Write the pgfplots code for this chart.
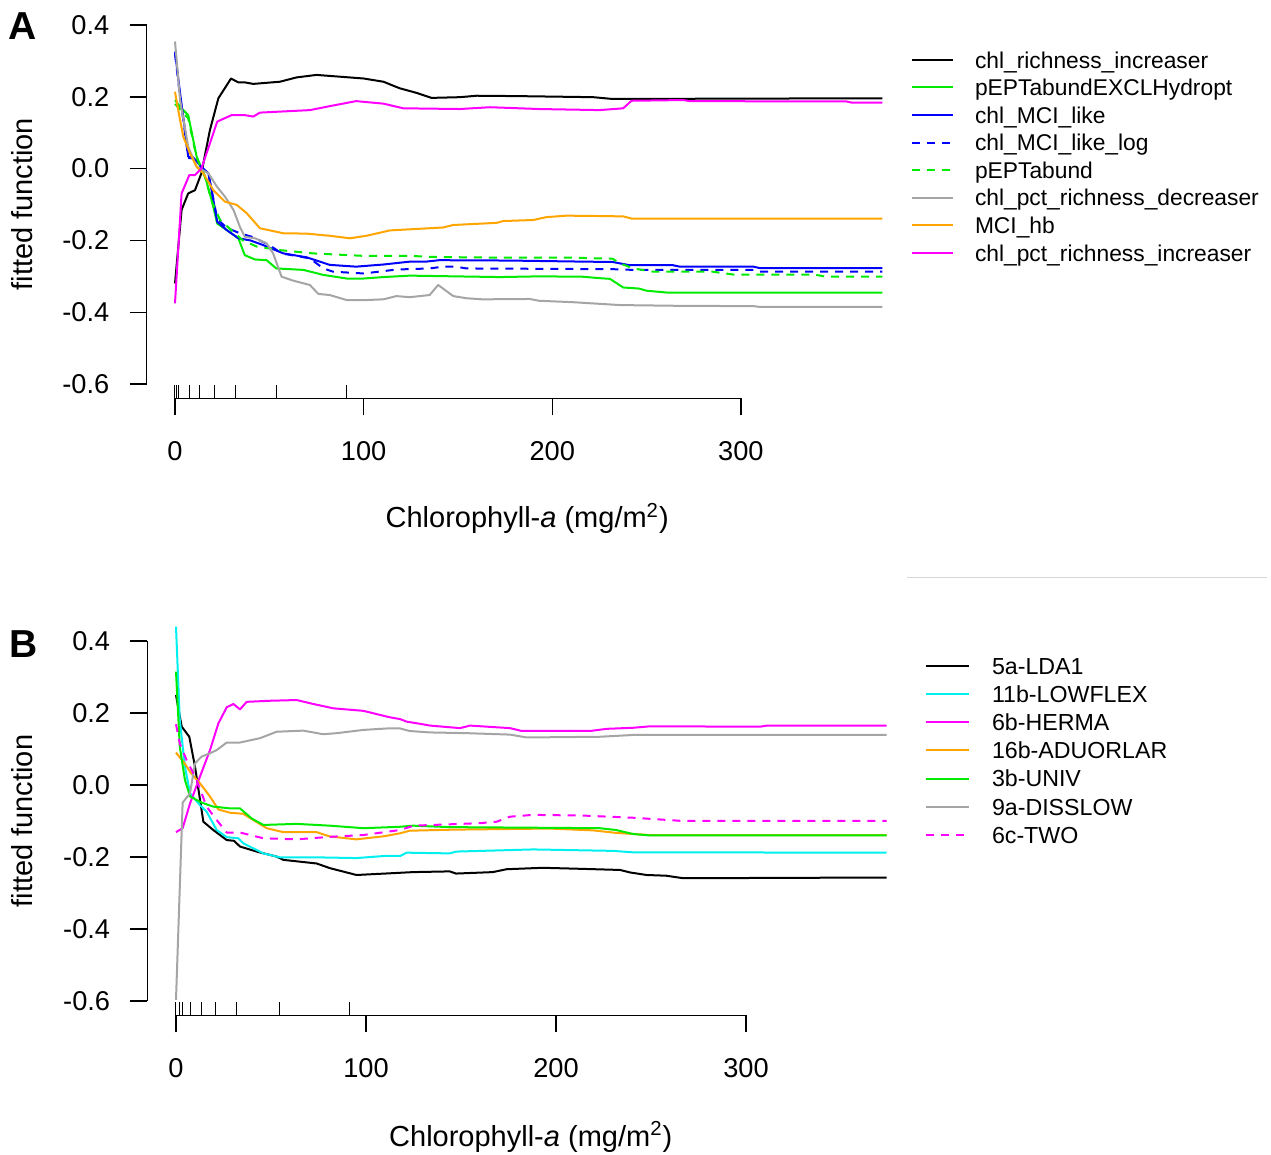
\documentclass[border=0pt]{standalone}
\usepackage{fontspec}
\setmainfont{Liberation Sans}
\usepackage{pgfplots}
\pgfplotsset{compat=1.18}
\definecolor{rgreen}{RGB}{0,235,0}
\definecolor{rblue}{RGB}{0,0,255}
\definecolor{rgray}{RGB}{165,165,165}
\definecolor{rorange}{RGB}{255,165,0}
\definecolor{rmag}{RGB}{255,0,255}
\definecolor{rcyan}{RGB}{0,240,240}
\pgfplotsset{
  rstyle/.style={
    xmin=-15, xmax=390, ymin=-0.64, ymax=0.44,
    scale only axis, clip=false,
    axis x line*=bottom, axis y line*=left,
    axis line style={draw=none},
    tick align=outside, major tick length=8.5pt,
    tick style={black, line width=0.7pt},
    xtick={0,100,200,300}, xticklabels={0,100,200,300},
    ytick={-0.6,-0.4,-0.2,0,0.2,0.4}, yticklabels={-0.6,-0.4,-0.2,0.0,0.2,0.4},
    minor tick num=0,
    tick label style={font=\fontsize{13.6}{16}\selectfont},
    yticklabel style={inner sep=0pt, xshift=-10pt},
    xticklabel style={inner sep=0pt, yshift=-12.9pt},
    label style={font=\fontsize{14.5}{17}\selectfont},
    xlabel={Chlorophyll-\textit{a} (mg/m\textsuperscript{2})},
    ylabel={fitted function},
    legend cell align=left,
    every axis plot/.append style={line width=1pt, line join=round},
  },
  rdash/.style={dash pattern=on 4pt off 3.5pt},
}
\begin{document}
\begin{tikzpicture}
\useasboundingbox (0,0) rectangle (635.5pt,-577.5pt);
\node[font=\bfseries\fontsize{19.5}{22}\selectfont, inner sep=0pt] at (11.5pt,-13pt) {A};
\node[font=\bfseries\fontsize{19.5}{22}\selectfont, inner sep=0pt] at (11.75pt,-322pt) {B};
\draw[color={rgb,255:red,215;green,215;blue,215}, line width=0.5pt] (453.5pt,-289pt) -- (633.5pt,-289pt);

% ---------------- Panel A ----------------
\begin{axis}[rstyle,
  at={(73.35pt,-5.32pt)}, anchor=north west,
  width=382pt, height=193.9pt,
  xlabel style={at={(axis description cs:0.498,-0.334)}, anchor=base},
  ylabel style={at={(axis description cs:-0.150,0.501)}, anchor=base},
  legend style={at={(axis description cs:1.0004,0.8943)}, anchor=north west,
    draw=none, fill=none, inner sep=0pt, outer sep=0pt,
    row sep=5.59pt, column sep=10.5pt,
    font=\fontsize{11.4}{14}\selectfont,
    nodes={inner sep=0pt, text height=8.2pt, text depth=0pt}},
  legend image code/.code={\draw[#1] (0pt,0pt) -- (20.5pt,0pt);},
]
\draw[black, line width=0.7pt] (axis cs:-15,-0.6) -- (axis cs:-15,0.4);
\draw[black, line width=0.7pt] (axis cs:0,-0.64) -- (axis cs:300,-0.64);

\addplot[black] table {
0 -0.32
3.5 -0.115
7 -0.069
10.6 -0.06
14 -0.013
18.5 0.107
23 0.196
29.7 0.251
33.6 0.24
37.2 0.24
41.5 0.236
55.6 0.242
64.4 0.254
75 0.261
87.5 0.256
100 0.251
110.5 0.242
119 0.224
128 0.211
136 0.197
151 0.199
160 0.203
181 0.202
221.6 0.199
232 0.194
375 0.196
};
\addlegendentry{chl\_richness\_increaser}
\addplot[rgreen] table {
0 0.191
2.7 0.172
7 0.149
11.5 0.033
16 -0.023
19.4 -0.087
22.4 -0.153
27.4 -0.171
33.6 -0.194
37 -0.241
42.4 -0.253
48.6 -0.255
53.7 -0.278
68 -0.282
78.6 -0.296
91 -0.306
100 -0.306
110.5 -0.302
124.5 -0.298
172 -0.302
193 -0.3
216 -0.301
225 -0.305
230.6 -0.307
237.6 -0.331
246 -0.334
250 -0.34
260.5 -0.345
375 -0.345
};
\addlegendentry{pEPTabundEXCLHydropt}
\addplot[rblue] table {
0 0.326
2.7 0.21
5.3 0.107
7 0.033
9.7 0.031
14 0.005
17.7 -0.013
19.4 -0.06
22.4 -0.148
27.4 -0.171
33.6 -0.194
40 -0.2
46.8 -0.213
57.4 -0.236
69.8 -0.247
82 -0.268
96 -0.273
110.5 -0.267
124.5 -0.259
133 -0.259
140 -0.255
177 -0.256
216.6 -0.259
232 -0.26
241 -0.269
264 -0.269
267.6 -0.273
306.6 -0.273
310 -0.277
375 -0.277
};
\addlegendentry{chl\_MCI\_like}
\addplot[rblue, rdash] table {
0 0.32
2.7 0.2
5.3 0.1
7 0.03
9.7 0.028
14 0.003
17.7 -0.015
19.4 -0.06
22.4 -0.14
27.4 -0.165
34.4 -0.18
41.5 -0.191
50 -0.213
56.5 -0.236
71.5 -0.25
78.6 -0.278
83.8 -0.287
100 -0.292
117.5 -0.281
135 -0.278
142 -0.273
149 -0.273
154.5 -0.278
232 -0.28
243 -0.282
306.6 -0.282
310 -0.287
375 -0.287
};
\addlegendentry{chl\_MCI\_like\_log}
\addplot[rgreen, rdash] table {
0 0.18
2.7 0.165
7 0.14
11.5 0.03
16 -0.025
19.4 -0.09
23.9 -0.143
29 -0.167
36 -0.2
43.3 -0.217
55.7 -0.227
73 -0.236
100 -0.243
124.5 -0.243
137 -0.246
172 -0.248
211 -0.248
232 -0.251
236 -0.264
243 -0.278
253.5 -0.287
285 -0.287
296 -0.295
339 -0.295
345 -0.301
375 -0.301
};
\addlegendentry{pEPTabund}
\addplot[rgray] table {
0 0.354
2.7 0.191
7 0.061
11.5 0.005
17.7 -0.013
22.2 -0.05
26.5 -0.078
31 -0.115
34.4 -0.162
37 -0.19
42.4 -0.194
48.6 -0.208
52 -0.236
56.5 -0.301
62.7 -0.312
71.5 -0.324
76 -0.349
82 -0.352
91 -0.366
101.5 -0.366
110.5 -0.364
117.4 -0.355
124.5 -0.358
135 -0.352
139.5 -0.324
147.5 -0.355
154.6 -0.361
163 -0.364
188 -0.363
193 -0.368
211 -0.372
236 -0.38
266 -0.382
306.6 -0.383
310 -0.385
375 -0.385
};
\addlegendentry{chl\_pct\_richness\_decreaser}
\addplot[rorange] table {
0 0.214
2.1 0.152
4.4 0.089
8 0.042
11.5 0.005
15 -0.013
20.3 -0.06
26.5 -0.092
32.7 -0.101
38 -0.124
45 -0.166
57.4 -0.18
69.8 -0.181
82 -0.187
92.7 -0.194
101.5 -0.187
114 -0.172
124.5 -0.169
142 -0.164
147.5 -0.157
170.5 -0.151
174 -0.146
190 -0.143
197 -0.135
207.6 -0.131
225 -0.132
237.6 -0.133
242 -0.139
375 -0.139
};
\addlegendentry{MCI\_hb}
\addplot[rmag] table {
0 -0.375
3.5 -0.069
7.6 -0.018
10.6 -0.018
14 0.0
18.5 0.07
22.4 0.131
30 0.149
37 0.149
41.5 0.145
45 0.156
71.6 0.163
82 0.174
96 0.188
110.5 0.181
121 0.168
151 0.166
167 0.171
193 0.166
225 0.163
237.6 0.168
242 0.189
269.5 0.191
273 0.188
356 0.187
358.6 0.184
375 0.184
};
\addlegendentry{chl\_pct\_richness\_increaser}
\addplot[forget plot, black, only marks, mark=|, mark size=3.25pt, mark options={line width=0.5pt, solid}] coordinates {
(0,-0.622) (1,-0.622) (2,-0.622) (7.5,-0.622) (13,-0.622) (21,-0.622) (32,-0.622) (54,-0.622) (91,-0.622)};
\end{axis}

% ---------------- Panel B ----------------
\begin{axis}[rstyle,
  at={(73.75pt,-313.3pt)}, anchor=north west,
  width=384.75pt, height=194.4pt,
  xlabel style={at={(axis description cs:0.498,-0.336)}, anchor=base},
  ylabel style={at={(axis description cs:-0.149,0.500)}, anchor=base},
  legend style={at={(axis description cs:1.0104,0.920)}, anchor=north west,
    draw=none, fill=none, inner sep=0pt, outer sep=0pt,
    row sep=5.78pt, column sep=11pt,
    font=\fontsize{11.6}{14}\selectfont,
    nodes={inner sep=0pt, text height=8.3pt, text depth=0pt}},
  legend image code/.code={\draw[#1] (0pt,0pt) -- (21.5pt,0pt);},
]
\draw[black, line width=0.7pt] (axis cs:-15,-0.6) -- (axis cs:-15,0.4);
\draw[black, line width=0.7pt] (axis cs:0,-0.64) -- (axis cs:300,-0.64);

\addplot[black] table {
0 0.25
3 0.162
7 0.134
10 0.051
14.4 -0.102
19.6 -0.125
26.7 -0.153
30.5 -0.155
33.7 -0.171
42.5 -0.185
53 -0.199
56.5 -0.208
74 -0.218
81 -0.231
95 -0.25
110 -0.246
124.7 -0.242
144 -0.24
147.4 -0.246
166.7 -0.242
174 -0.234
193 -0.23
214 -0.233
233.7 -0.236
239 -0.243
247.7 -0.25
258 -0.252
267 -0.259
374 -0.257
};
\addlegendentry{5a-LDA1}
\addplot[rcyan] table {
0 0.44
2 0.18
4.7 0.051
7.4 -0.023
12.6 -0.056
16.1 -0.074
21.4 -0.125
26.7 -0.145
32.8 -0.148
35.4 -0.162
46 -0.19
54.7 -0.201
74 -0.201
95 -0.203
110 -0.197
118 -0.197
121.4 -0.188
144 -0.19
147.4 -0.185
188 -0.179
230 -0.183
240.4 -0.187
374 -0.188
};
\addlegendentry{11b-LOWFLEX}
\addplot[rmag] table {
0 -0.131
3.5 -0.12
7.4 -0.051
12.6 0.023
17.9 0.097
22.3 0.171
26.7 0.216
30.2 0.225
33.7 0.21
37.2 0.231
49.5 0.234
63.5 0.236
72.3 0.225
82.8 0.213
98.6 0.206
112.6 0.188
118 0.183
121.4 0.176
128.4 0.17
133.7 0.165
149.5 0.158
154.7 0.165
175.8 0.158
182 0.15
218 0.15
226.7 0.156
240.7 0.159
249.5 0.163
307.4 0.162
311 0.165
374 0.165
};
\addlegendentry{6b-HERMA}
\addplot[rorange] table {
0 0.09
4.4 0.061
7.9 0.033
12.6 0.005
17.9 -0.032
22.3 -0.068
28.4 -0.077
35.4 -0.08
40.6 -0.097
47.7 -0.12
56.5 -0.131
74 -0.131
81 -0.143
95 -0.151
110 -0.142
118 -0.134
123 -0.127
146 -0.124
196.5 -0.121
219.3 -0.126
231.6 -0.133
249.3 -0.139
374 -0.139
};
\addlegendentry{16b-ADUORLAR}
\addplot[rgreen] table {
0 0.315
2 0.106
4.7 0.014
7.4 -0.032
13.5 -0.049
19.6 -0.06
28.4 -0.065
33.7 -0.065
39.8 -0.093
46 -0.111
63.5 -0.108
81 -0.113
98.6 -0.12
118 -0.116
124.7 -0.113
144 -0.117
223 -0.12
231.6 -0.125
240.4 -0.136
249 -0.14
374 -0.14
};
\addlegendentry{3b-UNIV}
\addplot[rgray] table {
0 -0.597
3.5 -0.049
7.4 -0.023
10 0.06
13.5 0.079
17.9 0.088
21.4 0.097
26.7 0.118
33.7 0.118
44.2 0.13
53 0.148
67 0.151
77.5 0.141
84.6 0.144
98.6 0.153
110.9 0.157
118 0.157
123 0.15
133.7 0.146
153 0.144
175.8 0.14
184.6 0.132
223 0.134
240.7 0.139
374 0.139
};
\addlegendentry{9a-DISSLOW}
\addplot[rmag, rdash] table {
0 0.169
2 0.115
5.6 0.069
10.9 0.014
16.1 -0.06
21.4 -0.097
26.7 -0.132
33.7 -0.132
46 -0.148
63.5 -0.151
81 -0.144
98.6 -0.139
118 -0.125
125 -0.113
160 -0.106
168.8 -0.102
175.8 -0.088
188 -0.083
214.4 -0.085
240.7 -0.091
267 -0.1
374 -0.1
};
\addlegendentry{6c-TWO}
\addplot[forget plot, black, only marks, mark=|, mark size=3.25pt, mark options={line width=0.5pt, solid}] coordinates {
(0,-0.622) (1.6,-0.622) (3.5,-0.622) (7.5,-0.622) (13.2,-0.622) (21,-0.622) (31.6,-0.622) (54.4,-0.622) (91.2,-0.622)};
\end{axis}
\end{tikzpicture}
\end{document}
